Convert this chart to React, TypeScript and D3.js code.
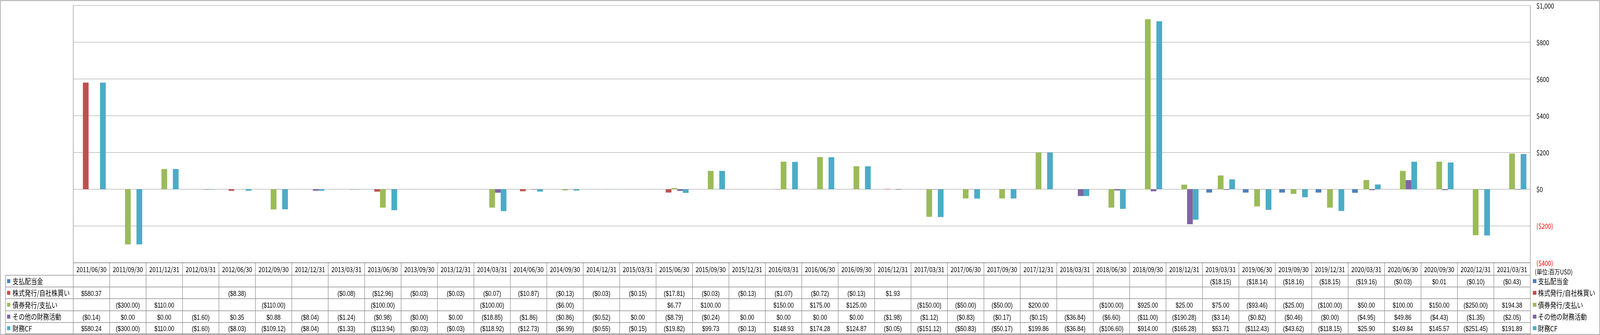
import { useEffect, useRef } from "react";
import * as d3 from "d3";

const categories = [
  "2011/06/30", "2011/09/30", "2011/12/31", "2012/03/31", "2012/06/30", "2012/09/30", "2012/12/31",
  "2013/03/31", "2013/06/30", "2013/09/30", "2013/12/31", "2014/03/31", "2014/06/30", "2014/09/30",
  "2014/12/31", "2015/03/31", "2015/06/30", "2015/09/30", "2015/12/31", "2016/03/31", "2016/06/30",
  "2016/09/30", "2016/12/31", "2017/03/31", "2017/06/30", "2017/09/30", "2017/12/31", "2018/03/31",
  "2018/06/30", "2018/09/30", "2018/12/31", "2019/03/31", "2019/06/30", "2019/09/30", "2019/12/31",
  "2020/03/31", "2020/06/30", "2020/09/30", "2020/12/31", "2021/03/31",
];

type V = number | null;

// 支払配当金
const dividends: V[] = [
  null, null, null, null, null, null, null, null, null, null, null, null, null, null, null, null,
  null, null, null, null, null, null, null, null, null, null, null, null, null, null, null,
  -18.15, -18.14, -18.16, -18.15, -19.16, -0.03, 0.01, -0.1, -0.43,
];
// 株式発行/自社株買い
const stock: V[] = [
  580.37, null, null, null, -8.38, null, null, -0.08, -12.96, -0.03, -0.03, -0.07, -10.87, -0.13,
  -0.03, -0.15, -17.81, -0.03, -0.13, -1.07, -0.72, -0.13, 1.93,
  null, null, null, null, null, null, null, null, null, null, null, null, null, null, null, null, null,
];
// 債券発行/支払い
const bonds: V[] = [
  null, -300, 110, null, null, -110, null, null, -100, null, null, -100, null, -6, null, null, 6.77,
  100, null, 150, 175, 125, null, -150, -50, -50, 200, null, -100, 925, 25, 75, -93.46, -25, -100,
  50, 100, 150, -250, 194.38,
];
// その他の財務活動
const other: V[] = [
  -0.14, 0, 0, -1.6, 0.35, 0.88, -8.04, -1.24, -0.98, -0.001, 0, -18.85, -1.86, -0.86, -0.52, 0,
  -8.79, -0.24, 0, 0, 0, 0, -1.98, -1.12, -0.83, -0.17, -0.15, -36.84, -6.6, -11.0, -190.28, -3.14,
  -0.82, -0.46, -0.001, -4.95, 49.86, -4.43, -1.35, -2.05,
];
// 財務CF
const financingCF: V[] = [
  580.24, -300, 110, -1.6, -8.03, -109.12, -8.04, -1.33, -113.94, -0.03, -0.03, -118.92, -12.73,
  -6.99, -0.55, -0.15, -19.82, 99.73, -0.13, 148.93, 174.28, 124.87, -0.05, -151.12, -50.83, -50.17,
  199.86, -36.84, -106.6, 914.0, -165.28, 53.71, -112.43, -43.62, -118.15, 25.9, 149.84, 145.57,
  -251.45, 191.89,
];

const seriesNames = ["支払配当金", "株式発行/自社株買い", "債券発行/支払い", "その他の財務活動", "財務CF"];
const seriesColors = ["#4F81BD", "#C0504D", "#9BBB59", "#8064A2", "#4BACC6"];
const seriesValues = [dividends, stock, bonds, other, financingCF];
const yTicks = [-400, -200, 0, 200, 400, 600, 800, 1000];
const unitLabel = "(単位:百万USD)";

const W = 4981;
const H = 858;
const PLOT = { left: 228, right: 4764, top: 14 };
const ROWS = [673, 705, 735, 765, 796, 826, 855]; // table row boundaries
const JP = "'Noto Sans CJK JP', 'Noto Sans', sans-serif";
const NUM = "'Liberation Sans', Arial, sans-serif";
const GRID = "#8c8c8c";

const fmt2 = d3.format(",.2f");
const money = (v: number) => (v < 0 ? `($${fmt2(Math.abs(v))})` : `$${fmt2(v)}`);
const axisMoney = (v: number) => (v < 0 ? `($${d3.format(",")(-v)})` : `$${d3.format(",")(v)}`);

export default function App() {
  const svgRef = useRef<SVGSVGElement | null>(null);

  useEffect(() => {
    document.body.style.margin = "0";
    document.body.style.overflow = "hidden";
    document.documentElement.style.overflow = "hidden";
    const svg = d3.select(svgRef.current);
    svg.selectAll("*").remove();

    const x = d3
      .scaleBand<string>()
      .domain(categories)
      .range([PLOT.left, PLOT.right])
      .paddingInner(0.215)
      .paddingOuter(0.1075);
    const xs = d3
      .scaleBand<number>()
      .domain(d3.range(seriesNames.length))
      .range([0, x.bandwidth()]);
    const y = d3.scaleLinear().domain([-400, 1000]).range([ROWS[0], PLOT.top]);

    svg.append("rect").attr("width", W).attr("height", H).attr("fill", "#fff");

    // Gridlines
    svg
      .append("g")
      .selectAll("line")
      .data(yTicks)
      .join("line")
      .attr("x1", PLOT.left)
      .attr("x2", PLOT.right)
      .attr("y1", (d) => y(d))
      .attr("y2", (d) => y(d))
      .attr("stroke", GRID)
      .attr("stroke-width", 1);

    // Bars
    const groups = svg
      .append("g")
      .selectAll("g")
      .data(categories)
      .join("g")
      .attr("transform", (d) => `translate(${x(d)},0)`);
    groups
      .selectAll("rect")
      .data((_, i) =>
        seriesValues.map((vals, s) => ({ s, v: vals[i] })).filter((d) => d.v != null && d.v !== 0)
      )
      .join("rect")
      .attr("x", (d) => xs(d.s)!)
      .attr("width", xs.bandwidth())
      .attr("y", (d) => Math.min(y(d.v as number), y(0)))
      .attr("height", (d) => Math.abs(y(d.v as number) - y(0)))
      .attr("fill", (d) => seriesColors[d.s]);

    // Y axis labels on the right
    svg
      .append("g")
      .selectAll("text")
      .data(yTicks)
      .join("text")
      .attr("x", PLOT.right + 19)
      .attr("y", (d) => y(d))
      .attr("dominant-baseline", "central")
      .attr("font-family", JP)
      .attr("font-size", 18)
      .attr("fill", (d) => (d < 0 ? "#FF0000" : "#000"))
      .text((d) => axisMoney(d));

    // Data table
    const table = svg.append("g");
    const step = x.step();
    const colLeft = (i: number) => PLOT.left + i * step;
    const lines = table.append("g").attr("stroke", GRID).attr("stroke-width", 1.5);
    lines
      .append("line")
      .attr("x1", PLOT.left)
      .attr("x2", PLOT.right)
      .attr("y1", ROWS[0])
      .attr("y2", ROWS[0]);
    ROWS.slice(1).forEach((ry) =>
      lines.append("line").attr("x1", 17).attr("x2", PLOT.right).attr("y1", ry).attr("y2", ry)
    );
    lines.append("line").attr("x1", 17).attr("x2", 17).attr("y1", ROWS[1]).attr("y2", ROWS[6]);
    d3.range(categories.length + 1).forEach((i) =>
      lines
        .append("line")
        .attr("x1", colLeft(i))
        .attr("x2", colLeft(i))
        .attr("y1", i === 0 || i === categories.length ? PLOT.top : ROWS[0])
        .attr("y2", ROWS[6])
    );

    const rowMid = (r: number) => (ROWS[r] + ROWS[r + 1]) / 2;

    table
      .append("g")
      .selectAll("text")
      .data(categories)
      .join("text")
      .attr("x", (_, i) => colLeft(i) + step / 2)
      .attr("y", rowMid(0))
      .attr("text-anchor", "middle")
      .attr("dominant-baseline", "central")
      .attr("font-family", JP)
      .attr("font-size", 18)
      .text((d) => d);

    seriesNames.forEach((name, s) => {
      const my = rowMid(s + 1);
      table
        .append("rect")
        .attr("x", 22)
        .attr("y", my - 5)
        .attr("width", 10)
        .attr("height", 10)
        .attr("fill", seriesColors[s]);
      table
        .append("text")
        .attr("x", 39)
        .attr("y", my)
        .attr("dominant-baseline", "central")
        .attr("font-family", JP)
        .attr("font-size", 19)
        .text(name);
      table
        .append("g")
        .selectAll("text")
        .data(seriesValues[s])
        .join("text")
        .attr("x", (_, i) => colLeft(i) + step / 2)
        .attr("y", my + 1)
        .attr("text-anchor", "middle")
        .attr("dominant-baseline", "central")
        .attr("font-family", NUM)
        .attr("font-size", 17.5)
        .text((d) => (d == null ? "" : money(d)));

      // Legend on the right
      svg
        .append("rect")
        .attr("x", 4772)
        .attr("y", my - 5)
        .attr("width", 11)
        .attr("height", 10)
        .attr("fill", seriesColors[s]);
      svg
        .append("text")
        .attr("x", 4788)
        .attr("y", my)
        .attr("dominant-baseline", "central")
        .attr("font-family", JP)
        .attr("font-size", 19)
        .text(name);
    });

    svg
      .append("text")
      .attr("x", 4778)
      .attr("y", 695)
      .attr("dominant-baseline", "central")
      .attr("font-family", JP)
      .attr("font-size", 17)
      .text(unitLabel);

    // Outer chart border
    svg
      .append("rect")
      .attr("x", 1.5)
      .attr("y", 1.5)
      .attr("width", W - 3)
      .attr("height", H - 3)
      .attr("fill", "none")
      .attr("stroke", GRID)
      .attr("stroke-width", 1.5);
  }, []);

  return (
    <svg
      ref={svgRef}
      viewBox={`0 0 ${W} ${H}`}
      preserveAspectRatio="none"
      style={{ position: "fixed", left: 0, top: 0, width: "100vw", height: "100vh", display: "block" }}
    />
  );
}
